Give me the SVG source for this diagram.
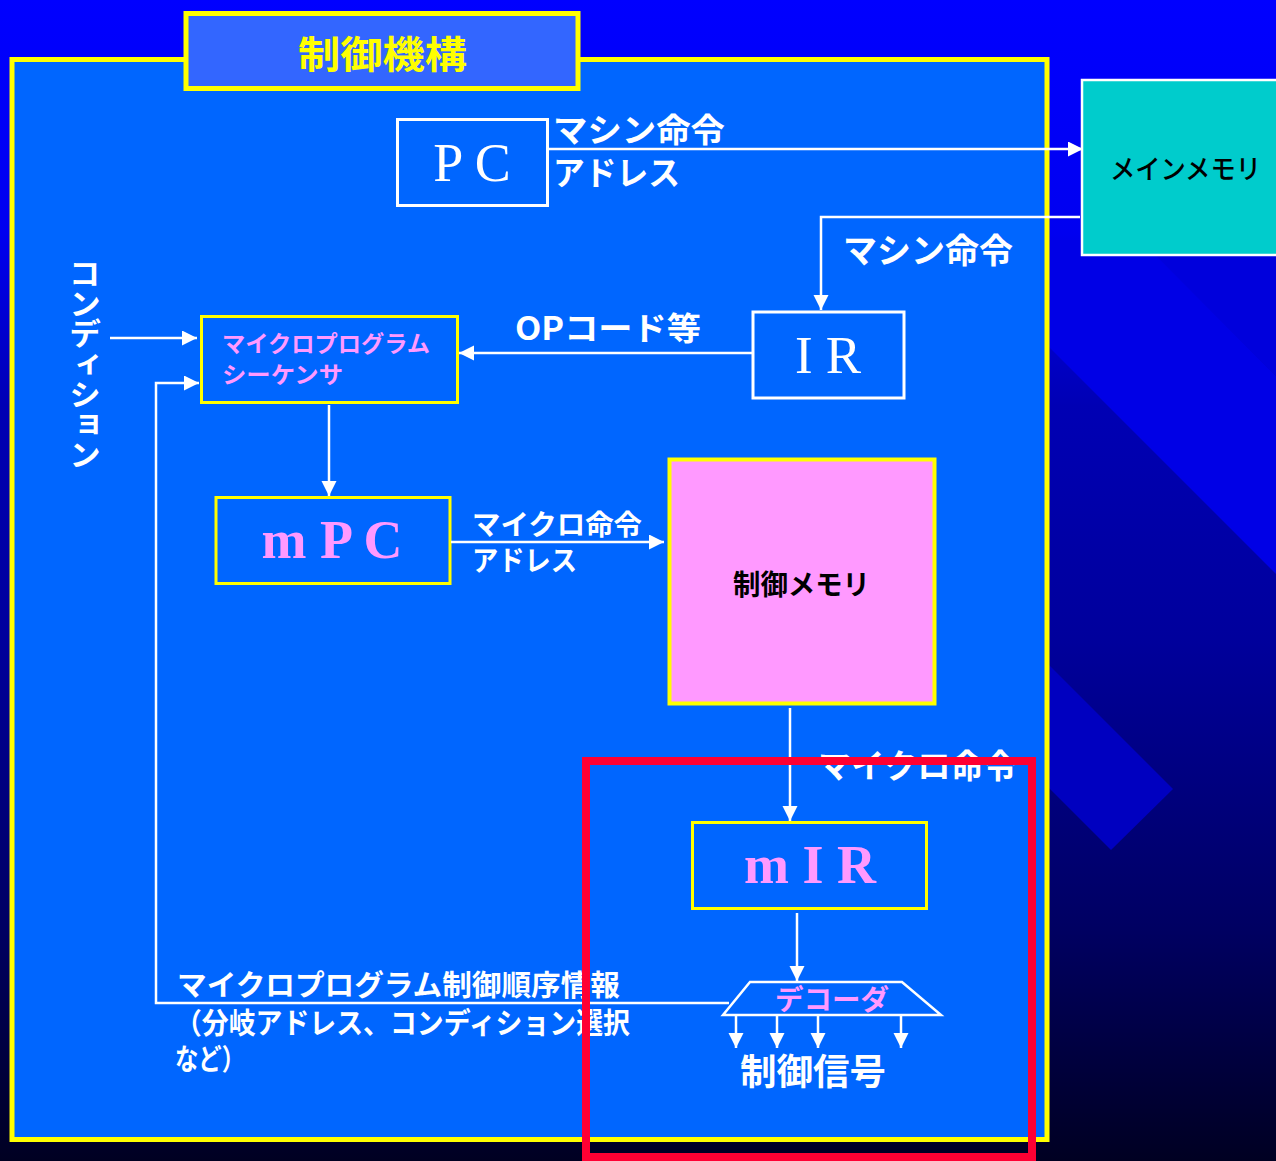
<svg xmlns="http://www.w3.org/2000/svg" width="1276" height="1161" viewBox="0 0 1276 1161">
<defs>
<linearGradient id="bg" x1="0" y1="0" x2="0" y2="1">
<stop offset="0" stop-color="#0000ff"/>
<stop offset="0.2" stop-color="#0000f0"/>
<stop offset="0.35" stop-color="#0000b4"/>
<stop offset="0.55" stop-color="#00009c"/>
<stop offset="0.8" stop-color="#000062"/>
<stop offset="1" stop-color="#000022"/>
</linearGradient>
<marker id="ah" markerUnits="userSpaceOnUse" markerWidth="16" markerHeight="16" refX="15" refY="7.5" orient="auto">
<path d="M0,0 L15,7.5 L0,15 z" fill="#ffffff"/>
</marker>
<style>
.jp{font-family:"Noto Sans CJK JP","Noto Sans CJK SC",sans-serif;}
.w{fill:#ffffff;font-weight:700;}
.pk{fill:#ff99ff;font-weight:700;}
.ser{font-family:"Liberation Serif","Times New Roman",serif;text-anchor:middle;}
.box{fill:none;stroke-width:3;}
.yb{stroke:#ffff00;}
.wb{stroke:#ffffff;}
.conn{fill:none;stroke:#ffffff;stroke-width:2.5;}
</style>
</defs>
<g id="background">
<rect x="0" y="0" width="1276" height="1161" fill="url(#bg)"/>
<polygon points="1140,240 1276,240 1276,376" fill="#0000dc"/>
<polygon points="1140,240 1276,376 1276,574 942,240" fill="#0000e6"/>
<polygon points="1000,616 1173,789 1111,850 1000,739" fill="#0000c0"/>
</g>
<g id="frame">
<rect x="12" y="59.5" width="1035" height="1080" fill="#0066ff" stroke="#ffff00" stroke-width="5"/>
</g>
<g id="title">
<rect x="186" y="13.5" width="392" height="75" fill="#3366ff" stroke="#ffff00" stroke-width="5"/>
<text x="298" y="68" class="jp" font-size="38" font-weight="700" fill="#ffff00" textLength="169" lengthAdjust="spacingAndGlyphs">制御機構</text>
</g>
<g id="main-memory">
<rect x="1082" y="80" width="200" height="175" fill="#00cccc" stroke="#ffffff" stroke-width="2.5"/>
<text x="1110" y="179" class="jp" font-size="27" font-weight="500" fill="#000000" textLength="151" lengthAdjust="spacingAndGlyphs">メインメモリ</text>
</g>
<g id="pc">
<rect x="397.5" y="119.5" width="150" height="86" fill="#0066ff" class="box wb"/>
<text x="472" y="181" class="ser" font-size="54" fill="#ffffff">P C</text>
</g>
<g id="ir">
<rect x="753" y="312" width="151" height="86" fill="#0066ff" class="box wb"/>
<text x="828" y="373" class="ser" font-size="53" fill="#ffffff">I R</text>
</g>
<g id="sequencer">
<rect x="201.5" y="316.5" width="256" height="86" class="box yb"/>
<text x="222" y="352" class="jp pk" font-size="23" textLength="208" lengthAdjust="spacingAndGlyphs">マイクロプログラム</text>
<text x="222" y="383" class="jp pk" font-size="23" textLength="121" lengthAdjust="spacingAndGlyphs">シーケンサ</text>
</g>
<g id="mpc">
<rect x="216" y="497.5" width="234" height="86" class="box yb"/>
<text x="332" y="558" class="ser" font-size="54" font-weight="700" fill="#ff99ff">m P C</text>
</g>
<g id="control-memory">
<rect x="669.5" y="459.5" width="265" height="244" fill="#ff99ff" stroke="#ffff00" stroke-width="4"/>
<text x="733" y="595" class="jp" font-size="28" font-weight="700" fill="#000000" textLength="137" lengthAdjust="spacingAndGlyphs">制御メモリ</text>
</g>
<g id="mir">
<rect x="692.5" y="822.5" width="234" height="86" class="box yb"/>
<text x="810" y="883" class="ser" font-size="54" font-weight="700" fill="#ff99ff">m I R</text>
</g>
<g id="decoder">
<polygon points="750,982 902,982 941,1015 723,1015" fill="none" stroke="#ffffff" stroke-width="2.5"/>
<text x="775" y="1010" class="jp pk" font-size="28" textLength="114" lengthAdjust="spacingAndGlyphs">デコーダ</text>
</g>
<g id="connectors">
<path class="conn" d="M549,149 H1083" marker-end="url(#ah)"/>
<path class="conn" d="M1080,217 H821 V310" marker-end="url(#ah)"/>
<path class="conn" d="M752,353 H459" marker-end="url(#ah)"/>
<path class="conn" d="M110,338 H197" marker-end="url(#ah)"/>
<path class="conn" d="M329,405 V496" marker-end="url(#ah)"/>
<path class="conn" d="M451,542 H664" marker-end="url(#ah)"/>
<path class="conn" d="M790,708 V821" marker-end="url(#ah)"/>
<path class="conn" d="M797,913 V981" marker-end="url(#ah)"/>
<path class="conn" d="M729,1003 H156 V383 H199" marker-end="url(#ah)"/>
<path class="conn" d="M736,1015 V1048" marker-end="url(#ah)"/>
<path class="conn" d="M777,1015 V1048" marker-end="url(#ah)"/>
<path class="conn" d="M818,1015 V1048" marker-end="url(#ah)"/>
<path class="conn" d="M901,1015 V1048" marker-end="url(#ah)"/>
</g>
<g id="labels">
<text x="553" y="142" class="jp w" font-size="33" textLength="172" lengthAdjust="spacingAndGlyphs">マシン命令</text>
<text x="553" y="185" class="jp w" font-size="33" textLength="127" lengthAdjust="spacingAndGlyphs">アドレス</text>
<text x="843" y="263" class="jp w" font-size="34" textLength="170" lengthAdjust="spacingAndGlyphs">マシン命令</text>
<text x="515" y="340" class="jp w" font-size="32" textLength="186" lengthAdjust="spacingAndGlyphs">OPコード等</text>
<text x="85" y="258" class="jp w" font-size="32" style="writing-mode:vertical-rl" textLength="212" lengthAdjust="spacingAndGlyphs">コンディション</text>
<text x="472" y="535" class="jp w" font-size="28" textLength="170" lengthAdjust="spacingAndGlyphs">マイクロ命令</text>
<text x="472" y="571" class="jp w" font-size="28" textLength="105" lengthAdjust="spacingAndGlyphs">アドレス</text>
<text x="818" y="778" class="jp w" font-size="33" textLength="199" lengthAdjust="spacingAndGlyphs">マイクロ命令</text>
<text x="740" y="1085" class="jp w" font-size="36" textLength="146" lengthAdjust="spacingAndGlyphs">制御信号</text>
<text x="177" y="996" class="jp w" font-size="29" textLength="443" lengthAdjust="spacingAndGlyphs">マイクロプログラム制御順序情報</text>
<text x="175" y="1034" class="jp w" font-size="29" textLength="455" lengthAdjust="spacingAndGlyphs">（分岐アドレス、コンディション選択</text>
<text x="175" y="1070" class="jp w" font-size="29" textLength="70" lengthAdjust="spacingAndGlyphs">など）</text>
</g>
<g id="highlight">
<rect x="586" y="761" width="446" height="396" fill="none" stroke="#ff0033" stroke-width="8"/>
</g>
</svg>
